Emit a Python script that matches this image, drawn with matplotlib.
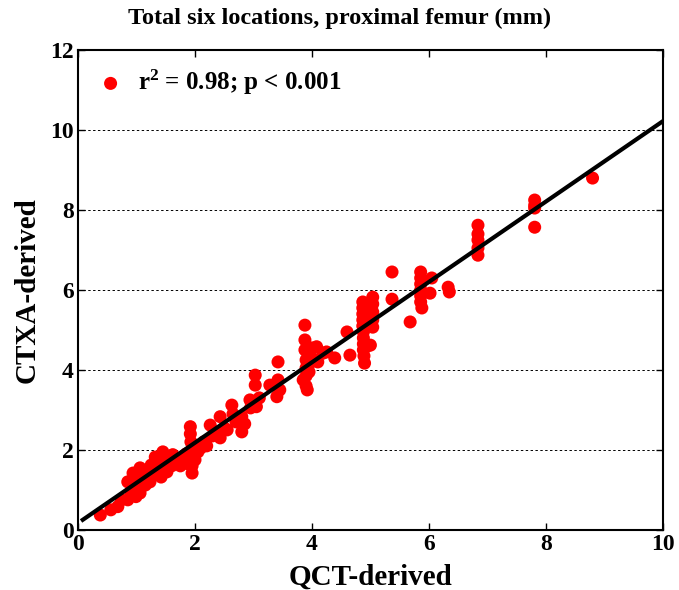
import numpy as np
import matplotlib
matplotlib.use("Agg")
import matplotlib.pyplot as plt

# ---------------- Data ----------------
qct = [0.38, 0.56, 0.68, 0.74, 0.85, 0.85, 0.90, 0.94, 0.99, 0.99, 1.00, 1.06, 1.06, 1.10,
       1.15, 1.18, 1.23, 1.25, 1.28, 1.32, 1.35, 1.37, 1.40, 1.42, 1.45, 1.48, 1.49, 1.52,
       1.55, 1.60, 1.62, 1.65, 1.71, 1.75, 1.80, 1.85, 1.88, 1.92, 1.92, 1.93, 1.94, 1.95,
       1.95, 1.95, 1.98, 2.00,
       2.05, 2.10, 2.15, 2.20, 2.26, 2.30, 2.35, 2.43, 2.43, 2.50, 2.55, 2.63, 2.65, 2.70,
       2.80, 2.80, 2.85, 2.94, 2.95,
       3.03, 3.03, 3.05, 3.10, 3.28, 3.40, 3.42, 3.42, 3.45,
       3.85, 3.88, 3.88, 3.88, 3.90, 3.90, 3.90, 3.90, 3.92, 3.95, 3.95, 4.00, 4.00, 4.08,
       4.10, 4.19, 4.25, 4.39, 4.60, 4.65,
       4.87, 4.87, 4.87, 4.87, 4.87, 4.88, 4.88, 4.88, 4.88, 4.89, 4.90, 4.95, 5.04, 5.04,
       5.04, 5.04, 5.04, 5.00,
       5.37, 5.37, 5.68, 5.86, 5.86, 5.86, 5.86, 5.86, 5.86, 5.88, 6.02, 6.05, 6.33, 6.35,
       6.84, 6.84, 6.84, 6.84, 6.84, 7.81, 7.81, 7.81, 7.81, 8.80]
ctxa = [0.37, 0.50, 0.58, 0.75, 0.75, 1.20, 0.95, 1.42, 0.83, 1.00, 1.30, 1.55, 0.92, 1.35,
        1.12, 1.45, 1.20, 1.62, 1.40, 1.82, 1.55, 1.50, 1.70, 1.32, 1.95, 1.60, 1.67, 1.45,
        1.80, 1.60, 1.88, 1.70, 1.70, 1.60, 1.80, 1.90, 1.65, 2.58, 2.40, 2.20, 2.00, 1.85,
        1.60, 1.42, 2.10, 1.75,
        1.95, 2.05, 2.20, 2.10, 2.62, 2.35, 2.45, 2.83, 2.30, 2.55, 2.50, 3.12, 2.90, 2.70,
        2.45, 2.83, 2.65, 3.25, 3.05,
        3.87, 3.62, 3.08, 3.30, 3.62, 3.33, 4.20, 3.75, 3.50,
        3.75, 5.12, 4.75, 4.50, 4.25, 4.05, 3.85, 3.60, 3.50, 4.15, 3.95, 4.30, 4.55, 4.58,
        4.20, 4.42, 4.45, 4.30, 4.95, 4.37,
        5.70, 5.55, 5.40, 5.25, 5.10, 4.95, 4.80, 4.65, 4.50, 4.35, 4.17, 4.60, 5.82, 5.65,
        5.45, 5.25, 5.07, 4.62,
        6.45, 5.77, 5.20, 6.45, 6.30, 6.15, 6.00, 5.85, 5.70, 5.55, 5.92, 6.30, 6.07, 5.95,
        7.62, 7.40, 7.25, 7.05, 6.87, 8.25, 8.12, 8.05, 7.57, 8.80]

fit_slope = 1.005
fit_intercept = 0.17
fit_range = [0.08, 10.0]

stats_label = r"r$^2$ = 0.98; p < 0.001"

# ---------------- Style ----------------
plt.rcParams["font.family"] = ["Liberation Serif", "DejaVu Serif"]
plt.rcParams["font.weight"] = "bold"
plt.rcParams["mathtext.fontset"] = "custom"
plt.rcParams["mathtext.rm"] = "Liberation Serif:bold"
plt.rcParams["mathtext.it"] = "Liberation Serif:bold"
plt.rcParams["mathtext.bf"] = "Liberation Serif:bold"

fig = plt.figure(figsize=(6.79, 5.90), dpi=100)
ax = fig.add_axes([0.115, 0.102, 0.861, 0.813])

pts = ax.scatter(qct, ctxa, s=88, color="red", edgecolors="none", zorder=3)

fx = np.array(fit_range)
ax.plot(fx, fit_slope * fx + fit_intercept, color="black", lw=3, zorder=4)

ax.set_xlim(0, 10)
ax.set_ylim(0, 12)
ax.set_xticks(range(0, 11, 2))
ax.set_yticks(range(0, 13, 2))
ax.yaxis.grid(True, linestyle=(0, (2.5, 2.5)), color="black", lw=0.7)
ax.set_axisbelow(True)

ax.tick_params(direction="in", top=True, right=True, length=5, width=1,
               labelsize=17, pad=3)
for lab in ax.get_xticklabels() + ax.get_yticklabels():
    lab.set_fontweight("bold")
for sp in ax.spines.values():
    sp.set_linewidth(1.5)

ax.set_xlabel("QCT-derived", fontsize=21, fontweight="bold", labelpad=6)
ax.set_ylabel("CTXA-derived", fontsize=21, fontweight="bold", labelpad=7)
# title sits centred on the whole figure, above the axes
fig.text(0.5, 0.968, "Total six locations, proximal femur (mm)", fontsize=17.5,
         fontweight="bold", ha="center", va="center")

ax.legend([pts], [stats_label], loc="upper left", frameon=False,
          prop={"size": 18, "weight": "bold"}, scatterpoints=1,
          handlelength=1.2, handletextpad=0.5, borderaxespad=0.3)

fig.savefig("out.png", dpi=100)
